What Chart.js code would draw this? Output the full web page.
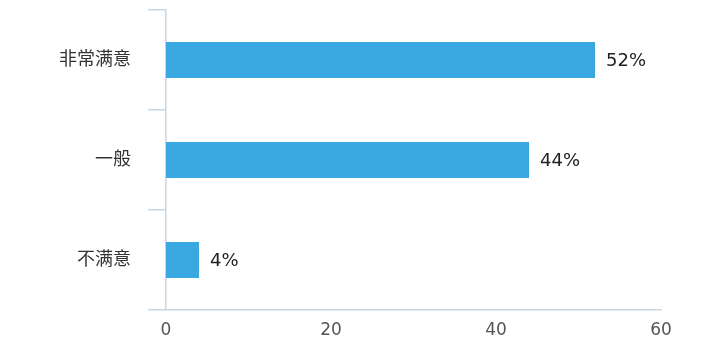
<!DOCTYPE html>
<html>
<head>
<meta charset="utf-8">
<script src="https://cdn.jsdelivr.net/npm/chart.js@4/dist/chart.umd.min.js"></script>
<style>
  html, body { margin: 0; padding: 0; background: #fff; }
  #wrap { width: 723px; height: 350px; }
</style>
</head>
<body>
<div id="wrap"><canvas id="myChart" width="723" height="350"></canvas></div>
<script>
const categories = ["非常满意", "一般", "不满意"]
const values = [52, 44, 4]
const xTicks = [0, 20, 40, 60]

const font = "'DejaVu Sans', 'Noto Sans CJK SC', sans-serif"
const axisColor = "#c6d7e5"

// labels like "52%" at the end of each bar
const barLabels = {
  id: "barLabels",
  afterDatasetsDraw(chart) {
    const ctx = chart.ctx
    const meta = chart.getDatasetMeta(0)
    ctx.save()
    ctx.font = "18px " + font
    ctx.fillStyle = "#222"
    ctx.textBaseline = "middle"
    ctx.textAlign = "left"
    meta.data.forEach((bar, i) => {
      const p = bar.getProps(["x", "y"], true)
      ctx.fillText(values[i] + "%", p.x + 11, p.y + 1)
    })
    ctx.restore()
  }
}

const ctx = document.getElementById("myChart").getContext("2d")
const myChart = new Chart(ctx, {
  type: "bar",
  data: {
    labels: categories,
    datasets: [{
      data: values,
      backgroundColor: "#3aa8e0",
      barPercentage: 0.36,
      categoryPercentage: 1,
    }],
  },
  options: {
    indexAxis: "y",
    responsive: false,
    animation: false,
    layout: { padding: { top: 10, right: 62, left: 0, bottom: 0 } },
    plugins: { legend: { display: false }, tooltip: { enabled: false } },
    scales: {
      x: {
        min: 0,
        max: 60,
        afterBuildTicks: (scale) => { scale.ticks = xTicks.map((v) => ({ value: v })) },
        afterFit: (scale) => { scale.height = 40 },
        grid: { display: false, drawTicks: false },
        border: { display: true, color: axisColor, width: 1.5 },
        ticks: { color: "#555", font: { size: 17, family: font }, padding: 10 },
      },
      y: {
        afterFit: (scale) => {
          scale.width = 166
          scale.paddingTop = 0
          scale.paddingBottom = 0
        },
        grid: { offset: true, drawOnChartArea: false, tickLength: 18, color: axisColor, lineWidth: 1.5 },
        border: { display: true, color: axisColor, width: 1.5 },
        ticks: { color: "#333", font: { size: 18, family: font }, padding: 17 },
      },
    },
  },
  plugins: [barLabels],
})
</script>
</body>
</html>
